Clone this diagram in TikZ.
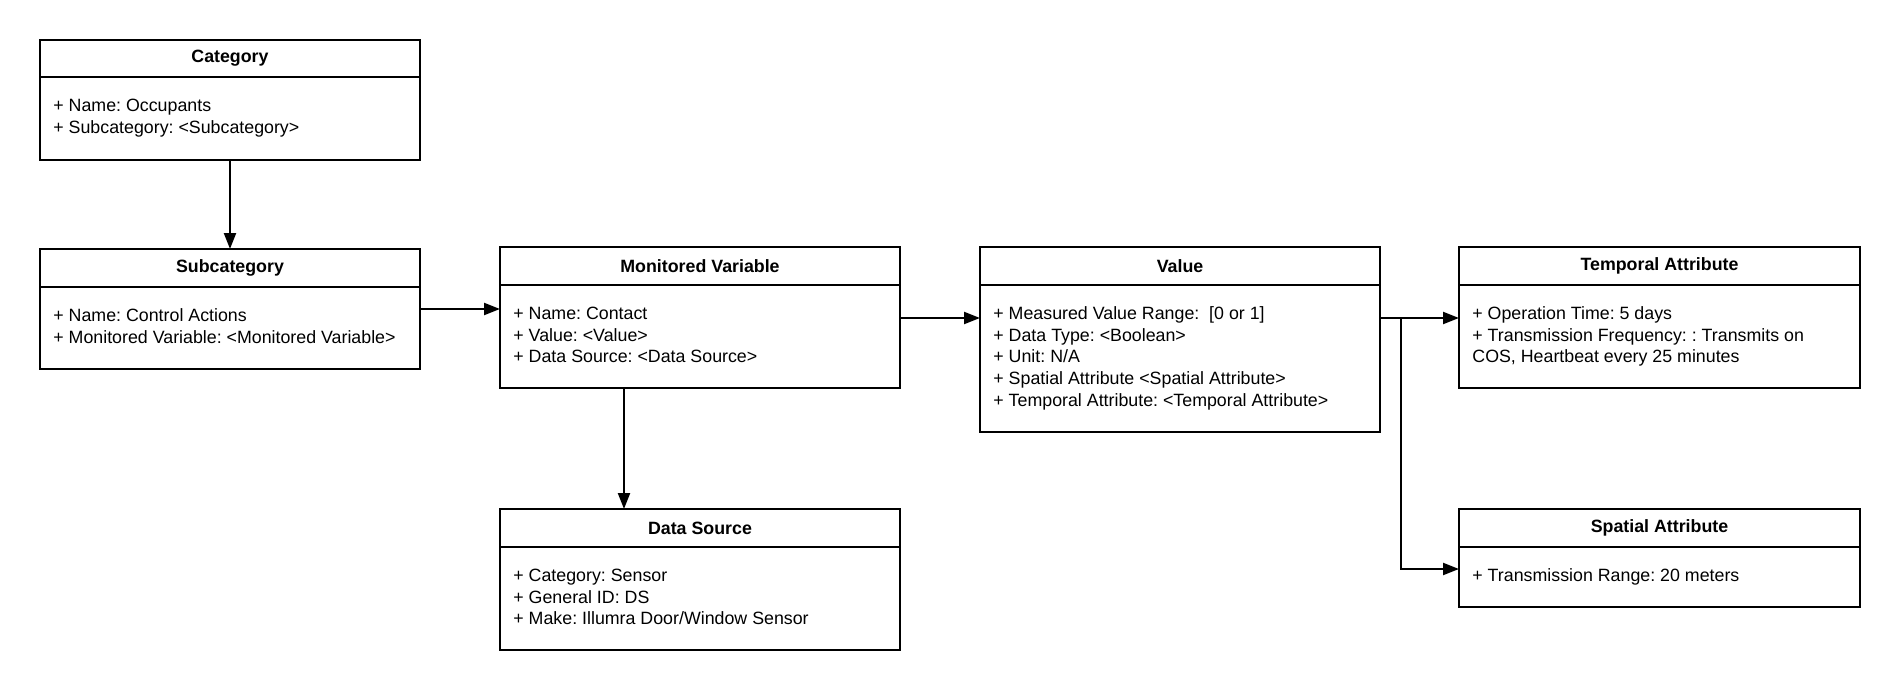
\documentclass[tikz,border=0pt]{standalone}
\usepackage{fontspec}
\setmainfont{Liberation Sans}
\frenchspacing
\usetikzlibrary{arrows.meta,calc}
\tikzset{
  umlbox/.style={draw=black, line width=1.1pt, fill=white, inner sep=0pt, outer sep=0pt},
  umltitle/.style={font=\fontsize{8.9}{10.85}\selectfont\bfseries\frenchspacing, inner sep=0pt, anchor=center},
  umlbody/.style={font=\fontsize{8.9}{10.85}\selectfont\frenchspacing, inner sep=0pt, anchor=north west, align=left},
  arr/.style={line width=1.1pt, -{Triangle[length=8pt,width=6pt]}},
  conn/.style={line width=1.1pt}
}
\newcommand\umlclass[8]{%
  \node[umlbox, minimum width={(#4-#2)*0.5}, minimum height={(#5-#3)*0.5}] (#1) at ({(#2+#4)/2},{(#3+#5)/2}) {};
  \draw[conn] (#2,#6) -- (#4,#6);
  \node[umltitle] (#1-t) at ({(#2+#4)/2},{(#3+#6)/2}) {#7};
  \node[umlbody] (#1-b) at ({#2+13},{#6+34-14}) {\rule{0pt}{7pt}#8};
}
\begin{document}
\begin{tikzpicture}[x=0.5pt,y=-0.5pt]
\useasboundingbox (0,0) rectangle (1900,691);
\umlclass{cat}{40}{40}{420}{160}{77}{Category}{+ Name: Occupants\\+ Subcategory: <Subcategory>}
\umlclass{sub}{40}{249}{420}{369}{287}{Subcategory}{+ Name: Control Actions\\+ Monitored Variable: <Monitored Variable>}
\umlclass{mv}{500}{247}{900}{388}{285}{Monitored Variable}{+ Name: Contact\\+ Value: <Value>\\+ Data Source: <Data Source>}
\umlclass{ds}{500}{509}{900}{650}{547}{Data Source}{+ Category: Sensor\\+ General ID: DS\\+ Make: Illumra Door/Window Sensor}
\umlclass{val}{980}{247}{1380}{432}{285}{Value}{+ Measured Value Range:\ \ [0 or 1]\\+ Data Type: <Boolean>\\+ Unit: N/A\\+ Spatial Attribute <Spatial Attribute>\\+ Temporal Attribute: <Temporal Attribute>}
\umlclass{tem}{1459}{247}{1860}{388}{285}{Temporal Attribute}{+ Operation Time: 5 days\\+ Transmission Frequency: : Transmits on\\COS, Heartbeat every 25 minutes}
\umlclass{spa}{1459}{509}{1860}{607}{547}{Spatial Attribute}{+ Transmission Range: 20 meters}

\coordinate (j) at (1401,318);
\coordinate (k) at (1401,569);
\draw[arr] (cat.south) -- (sub.north);
\draw[arr] (sub.east) -- (sub.east -| mv.west);
\draw[arr] ($(mv.south west)+(124,0)$) -- ($(ds.north west)+(124,0)$);
\draw[arr] (mv.east |- j) -- (val.west |- j);
\draw[arr] (val.east |- j) -- (j -| tem.west);
\draw[arr] (j) -- (k) -- (k -| spa.west);
\end{tikzpicture}
\end{document}
